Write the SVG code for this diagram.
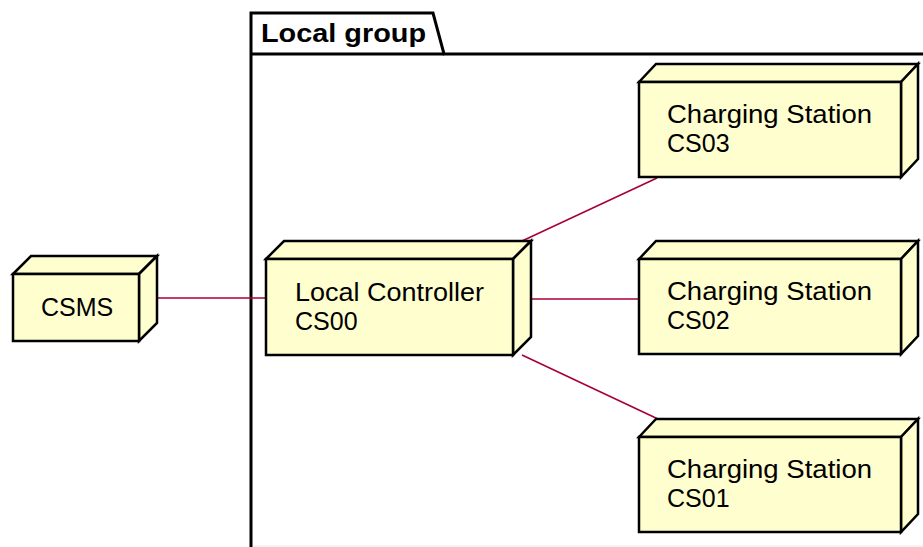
<svg xmlns="http://www.w3.org/2000/svg" width="923" height="547" viewBox="0 0 923 547">
  <style>
    .face { fill: #FEFECE; stroke: #000; stroke-width: 2.5; stroke-linejoin: miter; }
    .lbl { font-family: "Liberation Sans", Arial, sans-serif; font-size: 25px; fill: #000; }
    .pkg { fill: none; stroke: #000; stroke-width: 3; }
    .pkgtitle { font-family: "Liberation Sans", Arial, sans-serif; font-size: 26px; font-weight: bold; fill: #000; }
    .link { stroke: #A80036; stroke-width: 1.6; fill: none; }
  </style>
  <defs>
    <!-- 3D node: front face 0..w x 0..h, depth offset d -->
  </defs>
  <rect width="923" height="547" fill="#fff"/>

  <!-- package frame -->
  <g id="local-group">
    <path class="pkg" d="M251,547 L251,13 L433,13 L444,54 L926,54"/>
    <line x1="251" y1="54" x2="444" y2="54" stroke="#000" stroke-width="3"/>
    <line x1="253" y1="546" x2="923" y2="546" stroke="#e8e8e8" stroke-width="1"/>
    <text class="pkgtitle" x="261" y="42" textLength="165" lengthAdjust="spacingAndGlyphs">Local group</text>
  </g>

  <!-- connectors -->
  <g id="connectors">
    <line class="link" x1="157" y1="298" x2="266" y2="298"/>
    <line class="link" x1="531" y1="299" x2="639" y2="299"/>
    <line class="link" x1="522" y1="241" x2="657" y2="178"/>
    <line class="link" x1="522" y1="355" x2="658" y2="419"/>
  </g>

  <g id="csms">
    <path class="face" d="M13,274 L31,256 L157,256 L139,274 Z"/>
    <path class="face" d="M139,274 L157,256 L157,323 L139,341 Z"/>
    <rect class="face" x="13" y="274" width="126" height="67"/>
    <text class="lbl" x="41" y="316">CSMS</text>
  </g>

  <g id="cs00">
    <path class="face" d="M266,259 L284,241 L531,241 L513,259 Z"/>
    <path class="face" d="M513,259 L531,241 L531,337 L513,355 Z"/>
    <rect class="face" x="266" y="259" width="247" height="96"/>
    <text class="lbl" x="295" y="301" textLength="189" lengthAdjust="spacingAndGlyphs">Local Controller</text>
    <text class="lbl" x="295" y="330">CS00</text>
  </g>

  <g id="cs03">
    <path class="face" d="M639,82 L656,64 L918,64 L901,82 Z"/>
    <path class="face" d="M901,82 L918,64 L918,159 L901,177 Z"/>
    <rect class="face" x="639" y="82" width="262" height="95"/>
    <text class="lbl" x="667" y="123" textLength="205" lengthAdjust="spacingAndGlyphs">Charging Station</text>
    <text class="lbl" x="667" y="152">CS03</text>
  </g>

  <g id="cs02">
    <path class="face" d="M639,259 L656,241 L918,241 L901,259 Z"/>
    <path class="face" d="M901,259 L918,241 L918,336 L901,354 Z"/>
    <rect class="face" x="639" y="259" width="262" height="95"/>
    <text class="lbl" x="667" y="300" textLength="205" lengthAdjust="spacingAndGlyphs">Charging Station</text>
    <text class="lbl" x="667" y="329">CS02</text>
  </g>

  <g id="cs01">
    <path class="face" d="M639,437 L656,419 L918,419 L901,437 Z"/>
    <path class="face" d="M901,437 L918,419 L918,514 L901,532 Z"/>
    <rect class="face" x="639" y="437" width="262" height="95"/>
    <text class="lbl" x="667" y="478" textLength="205" lengthAdjust="spacingAndGlyphs">Charging Station</text>
    <text class="lbl" x="667" y="507">CS01</text>
  </g>
</svg>
